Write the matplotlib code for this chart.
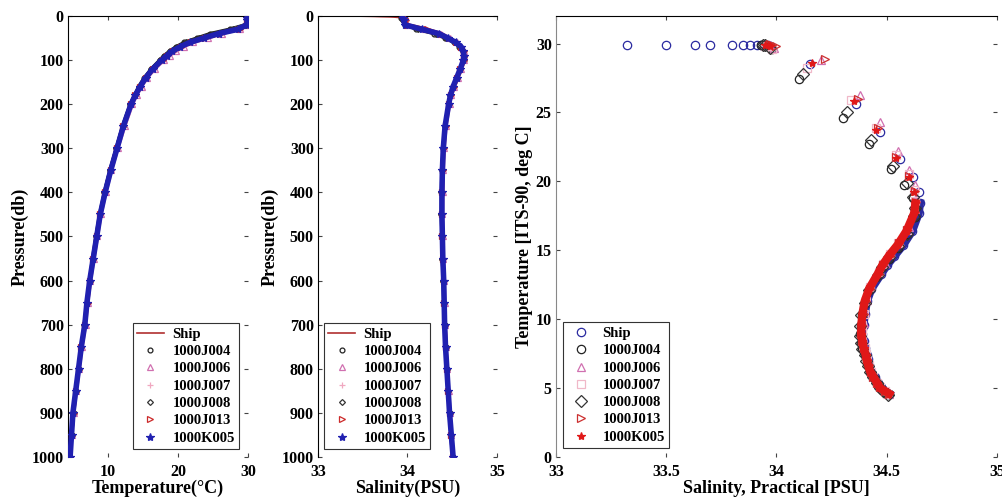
import matplotlib
matplotlib.use("Agg")
import matplotlib.pyplot as plt
import numpy as np

plt.rcParams['font.family'] = ['Liberation Serif', 'DejaVu Serif']
plt.rcParams['font.weight'] = 'bold'
plt.rcParams['axes.labelweight'] = 'bold'
plt.rcParams['xtick.direction'] = 'in'
plt.rcParams['ytick.direction'] = 'in'
plt.rcParams['xtick.top'] = True
plt.rcParams['ytick.right'] = True

# ship CTD profile
p_ship = [0, 0.5, 1, 1.5, 2, 2.5, 3, 3.5, 4, 5, 10, 20, 30, 40, 50, 60, 70, 80, 90, 100, 120, 140,
          160, 180, 200, 250, 300, 350, 400, 450, 500, 550, 600, 650, 700, 750, 800, 850, 900, 950, 1000]
t_ship = [29.9, 29.9, 29.9, 29.9, 29.9, 29.9, 29.9, 29.9, 29.9, 29.9, 29.9, 29.8, 28.5, 25.6, 23.6,
          21.6, 20.3, 19.2, 18.4, 17.7, 16.4, 15.4, 14.6, 13.9, 13.3, 12.2, 11.3, 10.4, 9.6, 8.9,
          8.4, 7.9, 7.4, 7.1, 6.7, 6.2, 5.8, 5.4, 5.1, 4.8, 4.6]
s_ship = [33.32, 33.5, 33.63, 33.7, 33.8, 33.85, 33.88, 33.91, 33.93, 33.95, 33.96, 33.97, 34.15,
          34.36, 34.47, 34.56, 34.62, 34.645, 34.65, 34.645, 34.615, 34.575, 34.535, 34.5, 34.475,
          34.43, 34.41, 34.4, 34.395, 34.39, 34.395, 34.4, 34.41, 34.415, 34.42, 34.43, 34.445,
          34.46, 34.475, 34.49, 34.51]

# float profiles (shared pressure levels)
p_float = [5, 10, 20, 30, 40, 50, 60, 70, 80, 90, 100, 120, 140, 160, 180, 200, 250, 300, 350, 400,
           450, 500, 550, 600, 650, 700, 750, 800, 850, 900, 950, 1000]

t_j004 = [29.9, 29.8, 29.6, 27.4, 24.6, 22.7, 20.9, 19.7, 18.8, 18.0, 17.4, 16.2, 15.2, 14.4, 13.8, 13.2,
          12.1, 11.2, 10.3, 9.5, 8.9, 8.3, 7.9, 7.4, 7.0, 6.7, 6.2, 5.8, 5.4, 5.1, 4.8, 4.6]
t_j006 = [29.9, 29.9, 29.7, 28.8, 26.3, 24.3, 22.2, 20.8, 19.7, 18.8, 18.0, 16.7, 15.6, 14.8, 14.1, 13.5,
          12.4, 11.4, 10.5, 9.7, 9.0, 8.5, 8.0, 7.5, 7.1, 6.8, 6.3, 5.9, 5.5, 5.1, 4.8, 4.6]
t_j007 = [29.8, 29.8, 29.6, 28.2, 25.9, 23.9, 21.9, 20.5, 19.4, 18.6, 17.9, 16.5, 15.5, 14.7, 14.0, 13.4,
          12.3, 11.3, 10.4, 9.6, 9.0, 8.4, 7.9, 7.5, 7.1, 6.7, 6.2, 5.8, 5.4, 5.1, 4.8, 4.6]
t_j008 = [29.9, 29.9, 29.7, 27.8, 25.0, 23.0, 21.1, 19.9, 18.9, 18.1, 17.5, 16.2, 15.3, 14.5, 13.8, 13.2,
          12.1, 11.2, 10.3, 9.5, 8.8, 8.3, 7.8, 7.4, 7.0, 6.6, 6.2, 5.8, 5.4, 5.0, 4.8, 4.5]
t_j013 = [30.0, 29.9, 29.8, 28.9, 26.0, 23.9, 21.8, 20.4, 19.3, 18.5, 17.8, 16.5, 15.5, 14.6, 13.9, 13.3,
          12.2, 11.3, 10.4, 9.6, 8.9, 8.4, 7.9, 7.4, 7.1, 6.7, 6.2, 5.8, 5.4, 5.1, 4.8, 4.6]
t_k005 = [29.9, 29.9, 29.8, 28.6, 25.8, 23.7, 21.7, 20.3, 19.2, 18.4, 17.7, 16.4, 15.4, 14.6, 13.9, 13.3,
          12.2, 11.3, 10.4, 9.6, 8.9, 8.4, 7.9, 7.4, 7.0, 6.7, 6.2, 5.8, 5.4, 5.0, 4.8, 4.6]

s_j004 = [33.93, 33.95, 33.98, 34.10, 34.30, 34.42, 34.52, 34.58, 34.62, 34.63, 34.63, 34.59, 34.55,
          34.51, 34.48, 34.46, 34.42, 34.40, 34.39, 34.385, 34.38, 34.385, 34.39, 34.40, 34.41,
          34.415, 34.425, 34.44, 34.455, 34.47, 34.49, 34.51]
s_j006 = [33.96, 33.97, 33.99, 34.20, 34.38, 34.47, 34.55, 34.60, 34.63, 34.635, 34.63, 34.60, 34.56,
          34.52, 34.49, 34.47, 34.43, 34.41, 34.40, 34.395, 34.39, 34.395, 34.40, 34.41, 34.415,
          34.42, 34.43, 34.445, 34.46, 34.475, 34.49, 34.51]
s_j007 = [33.95, 33.96, 33.98, 34.14, 34.34, 34.45, 34.54, 34.60, 34.625, 34.63, 34.625, 34.59, 34.55,
          34.515, 34.485, 34.465, 34.425, 34.405, 34.395, 34.39, 34.39, 34.39, 34.40, 34.405, 34.41,
          34.42, 34.43, 34.44, 34.455, 34.47, 34.49, 34.50]
s_j008 = [33.94, 33.95, 33.97, 34.12, 34.32, 34.43, 34.53, 34.59, 34.62, 34.63, 34.625, 34.59, 34.55,
          34.51, 34.48, 34.46, 34.42, 34.40, 34.385, 34.38, 34.38, 34.385, 34.39, 34.40, 34.405,
          34.415, 34.425, 34.44, 34.455, 34.47, 34.485, 34.505]
s_j013 = [33.97, 33.98, 34.00, 34.22, 34.37, 34.46, 34.54, 34.60, 34.63, 34.635, 34.63, 34.59, 34.555,
          34.515, 34.485, 34.465, 34.425, 34.405, 34.395, 34.39, 34.385, 34.39, 34.395, 34.405, 34.41,
          34.42, 34.43, 34.44, 34.455, 34.47, 34.49, 34.51]
s_k005 = [33.95, 33.96, 33.97, 34.16, 34.35, 34.45, 34.54, 34.60, 34.625, 34.63, 34.625, 34.59, 34.55,
          34.51, 34.48, 34.46, 34.42, 34.40, 34.39, 34.385, 34.385, 34.39, 34.395, 34.405, 34.41,
          34.415, 34.425, 34.44, 34.455, 34.47, 34.49, 34.51]

float_names = ['1000J004', '1000J006', '1000J007', '1000J008', '1000J013', '1000K005']
float_t = [t_j004, t_j006, t_j007, t_j008, t_j013, t_k005]
float_s = [s_j004, s_j006, s_j007, s_j008, s_j013, s_k005]

# styles for the two profile panels
prof_markers = ['o', '^', '+', 'D', '>', '*']
prof_colors = ['#222222', '#d070b0', '#f0a8c0', '#333333', '#cc2a2a', '#2020b0']
prof_ms = [3.5, 4.5, 4.5, 3, 4.5, 6]
# styles for the T-S panel
ts_markers = ['o', '^', 's', 'D', '>', '*']
ts_colors = ['#222222', '#d070b0', '#f0b8c8', '#333333', '#cc3030', '#e01818']

fig = plt.figure(figsize=(10.03, 5.04), dpi=100)
ax1 = fig.add_axes([0.0678, 0.0933, 0.1795, 0.875])
ax2 = fig.add_axes([0.317, 0.0933, 0.1785, 0.875])
ax3 = fig.add_axes([0.5543, 0.0933, 0.4397, 0.875])


def style_axes(ax):
    for side in ['right', 'bottom']:
        ax.spines[side].set_visible(False)
    ax.tick_params(labelsize=11.5, length=3, width=0.8, color='#444444', pad=3)
    ax.tick_params(axis='x', pad=5)
    for lab in ax.get_xticklabels() + ax.get_yticklabels():
        lab.set_fontweight('bold')


# profile panels
for ax, xvals_f, xship in [(ax1, float_t, t_ship), (ax2, float_s, s_ship)]:
    ax.plot(xship, p_ship, color='#b03030', lw=1.2, label='Ship', zorder=2)
    for i in range(len(float_names)):
        ax.plot(xvals_f[i], p_float, color=prof_colors[i], lw=4 if i == 5 else 2.5, zorder=3 + i)
        ax.plot(xvals_f[i], p_float, ls='none', marker=prof_markers[i], ms=prof_ms[i], mew=0.9,
                mfc='none' if prof_markers[i] not in '*+' else prof_colors[i],
                color=prof_colors[i], label=float_names[i], zorder=3 + i)
    ax.set_ylim(1000, 0)
    ax.set_yticks(np.arange(0, 1001, 100))
    ax.set_ylabel('Pressure(db)', fontsize=13, labelpad=2)

ax1.set_xlim(4.3, 30)
ax1.set_xticks([10, 20, 30])
ax1.set_xlabel('Temperature(°C)', fontsize=13, labelpad=0)
ax2.set_xlim(33, 35)
ax2.set_xticks([33, 34, 35])
ax2.set_xlabel('Salinity(PSU)', fontsize=13, labelpad=0)

leg_kw = dict(labelspacing=0.28, handlelength=1.8, handletextpad=0.6,
              borderpad=0.3, borderaxespad=0, fancybox=False, edgecolor='#333333', framealpha=1,
              prop={'weight': 'bold', 'size': 10.5})
ax1.legend(loc='lower right', bbox_to_anchor=(0.95, 0.018), **leg_kw).get_frame().set_linewidth(0.8)
ax2.legend(loc='lower left', bbox_to_anchor=(0.034, 0.018), **leg_kw).get_frame().set_linewidth(0.8)

# T-S panel: dense deep part drawn as a band, then all samples as markers
deep = np.array(p_float) >= 90
deep_ship = np.array(p_ship) >= 90
ax3.plot(np.array(s_ship)[deep_ship], np.array(t_ship)[deep_ship], color='#2a2aa0', lw=6, zorder=2)
ax3.plot(s_ship, t_ship, ls='none', marker='o', ms=6, mew=0.9, mfc='none', color='#2a2aa0',
         label='Ship', zorder=2)
for i in range(len(float_names)):
    ax3.plot(np.array(float_s[i])[deep], np.array(float_t[i])[deep], color=ts_colors[i],
             lw=6 if i == 5 else 2, zorder=3 + i)
    ax3.plot(float_s[i], float_t[i], ls='none', marker=ts_markers[i], ms=6, mew=0.9,
             mfc='none' if ts_markers[i] != '*' else ts_colors[i],
             color=ts_colors[i], label=float_names[i], zorder=3 + i)
ax3.set_xlim(33, 35)
ax3.set_ylim(0, 32)
ax3.set_xticks([33, 33.5, 34, 34.5, 35])
ax3.set_xticklabels(['33', '33.5', '34', '34.5', '35'])
ax3.set_yticks(np.arange(0, 31, 5))
ax3.set_xlabel('Salinity, Practical [PSU]', fontsize=13, labelpad=0)
ax3.set_ylabel('Temperature [ITS-90, deg C]', fontsize=13, labelpad=2)
ax3.spines['left'].set_color('#888888')
leg3 = ax3.legend(loc='lower left', bbox_to_anchor=(0.016, 0.02), **leg_kw)
leg3.get_frame().set_linewidth(0.8)

for ax in [ax1, ax2, ax3]:
    style_axes(ax)

fig.savefig('out.png', dpi=100)
